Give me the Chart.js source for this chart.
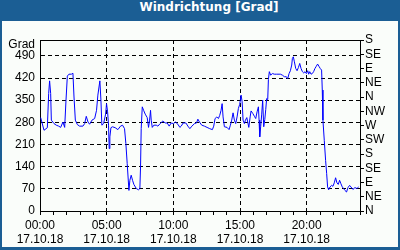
<!DOCTYPE html>
<html>
<head>
<meta charset="utf-8">
<script src="https://cdn.jsdelivr.net/npm/chart.js@4"></script>
<style>
  html, body { margin: 0; padding: 0; }
  body { width: 400px; height: 250px; background: #1b5e94; position: relative; overflow: hidden; }
  #title { position: absolute; left: 0; top: 0; width: 418px; height: 21px; line-height: 20px;
           text-align: center; color: #fff; font: bold 12px "DejaVu Sans", sans-serif; }
  #panel { position: absolute; left: 2px; top: 21px; width: 396px; height: 226px; background: #fafdfa; }
</style>
</head>
<body>
<div id="title">Windrichtung [Grad]</div>
<div id="panel"><canvas id="windChart" width="396" height="226"></canvas></div>
<script>
// hours since 00:00 on 17.10.18
const hours = [
  0.05, 0.30, 0.55, 0.65, 0.72, 0.80, 0.85, 1.05, 1.22, 1.40, 1.55, 1.72, 1.85, 1.95, 2.05, 2.17,
  2.35, 2.47, 2.55, 2.65, 2.80, 2.97, 3.22, 3.35, 3.47, 3.60, 3.72, 3.90, 4.10, 4.24, 4.34, 4.49,
  4.57, 4.64, 4.77, 4.92, 4.99, 5.07, 5.14, 5.19, 5.24, 5.32, 5.44, 5.64, 5.84, 6.04, 6.19, 6.34,
  6.44, 6.54, 6.67, 6.74, 6.84, 6.94, 7.04, 7.22, 7.39, 7.49, 7.54, 7.59, 7.67, 7.77, 7.89, 8.04,
  8.14, 8.22, 8.29, 8.34, 8.42, 8.54, 8.72, 8.84, 9.01, 9.21, 9.39, 9.54, 9.69, 9.84, 10.01, 10.16,
  10.34, 10.49, 10.59, 10.74, 10.94, 11.09, 11.24, 11.39, 11.59, 11.74, 11.84, 11.96, 12.13, 12.33, 12.53, 12.73,
  12.93, 13.03, 13.13, 13.26, 13.38, 13.48, 13.58, 13.66, 13.73, 13.83, 14.03, 14.18, 14.28, 14.38, 14.48, 14.58,
  14.68, 14.78, 14.88, 14.98, 15.08, 15.16, 15.23, 15.33, 15.41, 15.51, 15.58, 15.66, 15.76, 15.83, 15.96, 16.08,
  16.18, 16.28, 16.38, 16.43, 16.48, 16.55, 16.63, 16.70, 16.78, 16.86, 16.93, 17.00, 17.08, 17.13, 17.20, 17.30,
  17.43, 17.58, 17.73, 17.93, 18.03, 18.18, 18.33, 18.48, 18.58, 18.68, 18.78, 18.88, 18.93, 19.00, 19.08, 19.18,
  19.28, 19.38, 19.48, 19.58, 19.68, 19.78, 19.88, 19.98, 20.08, 20.15, 20.23, 20.33, 20.42, 20.52, 20.62, 20.72,
  20.82, 20.92, 21.02, 21.12, 21.17, 21.22, 21.32, 21.42, 21.50, 21.57, 21.65, 21.75, 21.87, 21.97, 22.07, 22.17,
  22.27, 22.37, 22.47, 22.57, 22.67, 22.77, 22.87, 22.99, 23.10, 23.22, 23.32, 23.47, 23.62, 23.77, 23.90
];
const direction = [
  295, 255, 263, 371, 411, 371, 287, 276, 271, 268, 264, 281, 264, 350, 426, 432,
  432, 435, 360, 287, 273, 268, 268, 276, 299, 281, 274, 287, 292, 318, 366, 411,
  350, 271, 276, 306, 339, 313, 271, 197, 234, 263, 266, 263, 257, 268, 271, 260,
  213, 150, 65, 97, 113, 97, 84, 71, 67, 71, 139, 260, 329, 318, 306, 295,
  264, 287, 318, 287, 264, 271, 271, 268, 276, 284, 278, 278, 268, 278, 276, 281,
  274, 264, 268, 278, 278, 268, 260, 268, 276, 278, 290, 281, 271, 268, 264, 260,
  257, 268, 292, 297, 292, 302, 318, 339, 297, 266, 264, 257, 271, 287, 310, 287,
  276, 297, 324, 337, 366, 345, 287, 276, 287, 295, 281, 264, 297, 316, 308, 299,
  292, 313, 329, 287, 234, 266, 306, 350, 266, 289, 320, 355, 352, 415, 440, 429,
  434, 432, 432, 432, 432, 429, 424, 424, 418, 434, 443, 461, 482, 487, 471, 450,
  443, 453, 466, 450, 440, 436, 440, 434, 443, 432, 440, 432, 434, 440, 450, 457,
  464, 457, 450, 445, 382, 287, 223, 160, 118, 76, 67, 76, 81, 78, 89, 105,
  89, 84, 97, 86, 76, 71, 65, 60, 74, 81, 76, 68, 74, 71, 76
];
const gradTicks = [0, 70, 140, 210, 280, 350, 420, 490];
const compass = ['N', 'NE', 'E', 'SE', 'S', 'SW', 'W', 'NW', 'N', 'NE', 'E', 'SE', 'S'];
const dateLabel = '17.10.18';

const font = { family: '"Liberation Sans", Arial, sans-serif', size: 12 };
const GRAD_POS = 524;

const frameTop = {
  id: 'frameTop',
  afterDraw(chart) {
    const { ctx, chartArea } = chart;
    ctx.save();
    ctx.strokeStyle = '#000';
    ctx.lineWidth = 1;
    ctx.beginPath();
    ctx.moveTo(chartArea.left, Math.round(chartArea.top) + 0.5);
    ctx.lineTo(chartArea.right, Math.round(chartArea.top) + 0.5);
    ctx.stroke();
    ctx.restore();
  }
};

new Chart(document.getElementById('windChart'), {
  type: 'line',
  data: {
    datasets: [{
      data: hours.map((h, i) => ({ x: h, y: direction[i] })),
      borderColor: '#0000ff',
      borderWidth: 1,
      pointRadius: 0,
      tension: 0,
      yAxisID: 'y'
    }]
  },
  options: {
    responsive: false,
    animation: false,
    layout: { padding: { top: 19, left: 0, right: 0, bottom: 0 } },
    plugins: { legend: { display: false }, tooltip: { enabled: false } },
    scales: {
      x: {
        type: 'linear',
        min: 0,
        max: 24,
        afterFit: s => { s.height = 36; },
        ticks: {
          stepSize: 1,
          autoSkip: false,
          maxRotation: 0,
          padding: 3,
          color: '#000',
          font: font,
          callback: v => (v % 5 === 0 && v < 24) ? [String(v).padStart(2, '0') + ':00', dateLabel] : ''
        },
        grid: {
          color: c => (c.tick && c.tick.value % 5 === 0 && c.tick.value > 0 && c.tick.value < 24) ? '#000' : 'rgba(0,0,0,0)',
          tickColor: '#000',
          tickLength: 4,
          lineWidth: 1
        },
        border: { display: true, color: '#000', dash: [4, 3] }
      },
      y: {
        position: 'left',
        min: 0,
        max: 540,
        afterFit: s => { s.width = 38; },
        afterBuildTicks: s => { s.ticks = gradTicks.concat([GRAD_POS]).map(v => ({ value: v })); },
        ticks: {
          autoSkip: false,
          padding: 5,
          color: '#000',
          font: font,
          callback: v => v === GRAD_POS ? 'Grad' : String(v)
        },
        grid: {
          drawTicks: false,
          color: c => (c.tick && c.tick.value > 0 && c.tick.value < 500) ? '#000' : 'rgba(0,0,0,0)'
        },
        border: { display: true, color: '#000', dash: [4, 3] }
      },
      y2: {
        position: 'right',
        min: 0,
        max: 540,
        afterFit: s => { s.width = 38; },
        ticks: {
          stepSize: 45,
          autoSkip: false,
          padding: 1,
          color: '#000',
          font: font,
          callback: (v, i) => compass[i]
        },
        grid: { drawOnChartArea: false, tickLength: 4, tickColor: '#000' },
        border: { display: true, color: '#000' }
      }
    }
  },
  plugins: [frameTop]
});
</script>
</body>
</html>
